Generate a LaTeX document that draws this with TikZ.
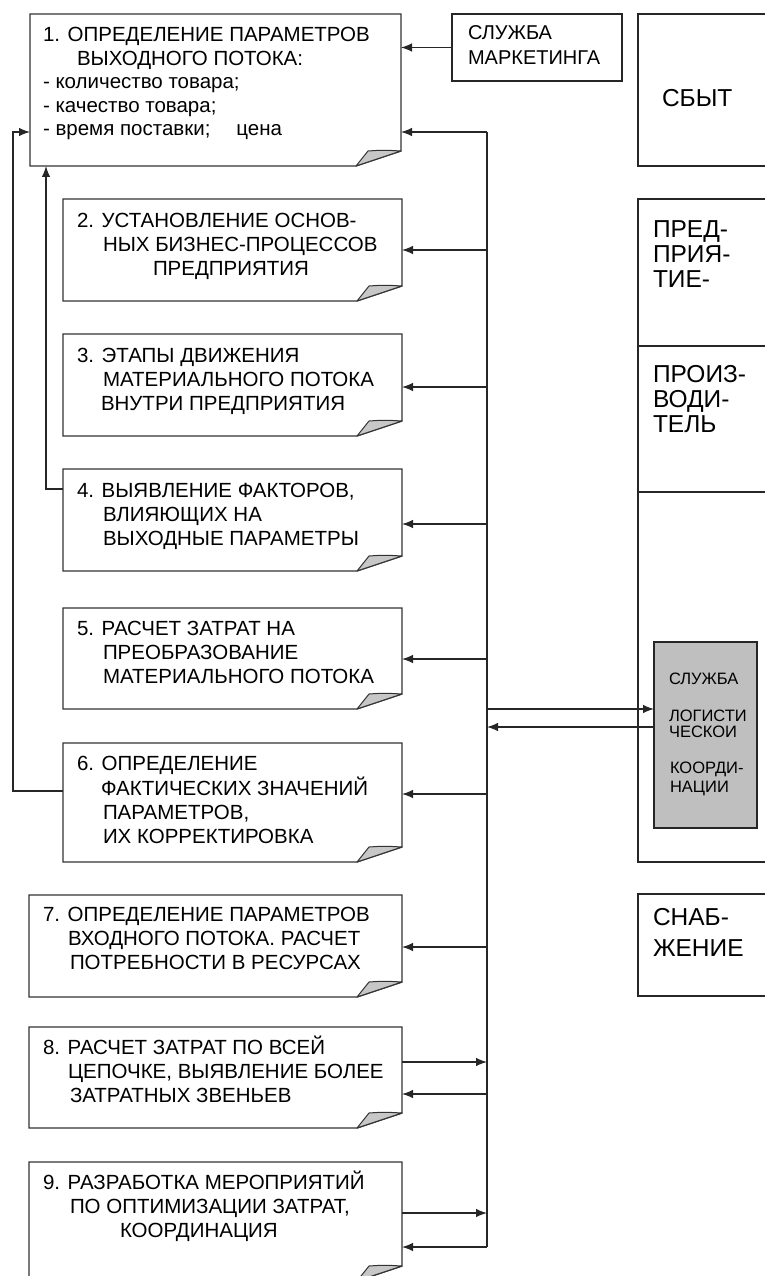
\documentclass[tikz,border=0pt]{standalone}
\usepackage{fontspec}
\setmainfont{Liberation Sans}
\usetikzlibrary{arrows.meta}

\tikzset{
  ink/.style={draw=black!85, line width=1.2pt},
  boxline/.style={draw=black!80, line width=1.4pt, line join=miter},
  flap/.style={fill=black!22, draw=black!80, line width=1pt, line join=round},
  arr/.style={ink, -{Latex[length=11pt,width=8.5pt]}},
  panel/.style={draw=black!85, line width=1.3pt, inner sep=0, outer sep=0, anchor=north west},
  holder/.style={inner sep=0, outer sep=0, anchor=north west},
  txt/.style={inner sep=0, outer sep=0, anchor=base west, font=\fontsize{20.5}{24.4}\selectfont},
  rtxt/.style={inner sep=0, outer sep=0, anchor=base west, font=\fontsize{24.5}{25}\selectfont},
}

% document-shaped box with a folded lower right corner: name, left, top, right, bottom
\newcommand\docnode[5]{%
  \node[holder, minimum width={#4pt-#2pt}, minimum height={#5pt-#3pt}] (#1) at (#2,#3) {};
  \draw[boxline] (#2,#3) -- (#4,#3) -- (#4,#5-15) -- (#4-45,#5) -- (#2,#5) -- cycle;
  \filldraw[flap] (#4-45,#5) -- (#4-33,#5-15) .. controls (#4-18,#5-16) .. (#4,#5-15) -- cycle;
}
\newcommand\txtlines[1]{\begin{tabular}[t]{@{}l@{}}#1\end{tabular}}

\begin{document}
\begin{tikzpicture}[x=1pt, y=-1pt]
\useasboundingbox (0,0) rectangle (765,1276);
\clip (0,0) rectangle (765,1276);

% step boxes
\docnode{b1}{30}{14}{401}{166}
\docnode{b2}{63}{199}{402}{301}
\docnode{b3}{63}{334}{402}{436}
\docnode{b4}{63}{469}{402}{571}
\docnode{b5}{63}{608}{402}{709}
\docnode{b6}{63}{743}{402}{862}
\docnode{b7}{29}{895}{402}{997}
\docnode{b8}{29}{1027}{402}{1128}
\docnode{b9}{29}{1162}{402}{1281}

\node[txt, font=\fontsize{20.5}{23.4}\selectfont] (t1) at (43,42) {\txtlines{%
  1. ОПРЕДЕЛЕНИЕ ПАРАМЕТРОВ\\
  \hspace*{34pt}ВЫХОДНОГО ПОТОКА:\\
  - количество товара;\\
  - качество товара;\\
  - время поставки;\hspace{26pt}цена}};
\node[txt] (t2) at (77,227) {\txtlines{%
  2. УСТАНОВЛЕНИЕ ОСНОВ-\\
  \hspace*{26pt}НЫХ БИЗНЕС-ПРОЦЕССОВ\\
  \hspace*{76pt}ПРЕДПРИЯТИЯ}};
\node[txt] (t3) at (77,362) {\txtlines{%
  3. ЭТАПЫ ДВИЖЕНИЯ\\
  \hspace*{26pt}МАТЕРИАЛЬНОГО ПОТОКА\\
  \hspace*{24pt}ВНУТРИ ПРЕДПРИЯТИЯ}};
\node[txt] (t4) at (77,497) {\txtlines{%
  4. ВЫЯВЛЕНИЕ ФАКТОРОВ,\\
  \hspace*{26pt}ВЛИЯЮЩИХ НА\\
  \hspace*{26pt}ВЫХОДНЫЕ ПАРАМЕТРЫ}};
\node[txt] (t5) at (77,635) {\txtlines{%
  5. РАСЧЕТ ЗАТРАТ НА\\
  \hspace*{26pt}ПРЕОБРАЗОВАНИЕ\\
  \hspace*{26pt}МАТЕРИАЛЬНОГО ПОТОКА}};
\node[txt, font=\fontsize{20.5}{23.7}\selectfont] (t6) at (77,770) {\txtlines{%
  6. ОПРЕДЕЛЕНИЕ\\
  \hspace*{24pt}ФАКТИЧЕСКИХ ЗНАЧЕНИЙ\\
  \hspace*{26pt}ПАРАМЕТРОВ,\\
  \hspace*{26pt}ИХ КОРРЕКТИРОВКА}};
\node[txt] (t7) at (43,921) {\txtlines{%
  7. ОПРЕДЕЛЕНИЕ ПАРАМЕТРОВ\\
  \hspace*{25pt}ВХОДНОГО ПОТОКА. РАСЧЕТ\\
  \hspace*{27pt}ПОТРЕБНОСТИ В РЕСУРСАХ}};
\node[txt] (t8) at (43,1054) {\txtlines{%
  8. РАСЧЕТ ЗАТРАТ ПО ВСЕЙ\\
  \hspace*{25pt}ЦЕПОЧКЕ, ВЫЯВЛЕНИЕ БОЛЕЕ\\
  \hspace*{27pt}ЗАТРАТНЫХ ЗВЕНЬЕВ}};
\node[txt] (t9) at (43,1189) {\txtlines{%
  9. РАЗРАБОТКА МЕРОПРИЯТИЙ\\
  \hspace*{27pt}ПО ОПТИМИЗАЦИИ ЗАТРАТ,\\
  \hspace*{77pt}КООРДИНАЦИЯ}};

% marketing service
\node[panel, minimum width=170, minimum height=67] (mk) at (452,14) {};
\node[txt, font=\fontsize{20}{25}\selectfont] (mkt) at (468,40) {\txtlines{СЛУЖБА\\МАРКЕТИНГА}};

% right column: sales, enterprise, supply
\node[panel, minimum width=160, minimum height=152] (sb) at (638,14) {};
\node[rtxt] (sbt) at (662,107) {СБЫТ};
\node[panel, minimum width=160, minimum height=663] (ent) at (638,199) {};
\coordinate (d1) at (638,346);
\coordinate (d2) at (638,492);
\draw[ink, line width=1.3pt] (d1) -- ++(160,0);
\draw[ink, line width=1.3pt] (d2) -- ++(160,0);
\node[rtxt] (pr1) at (653,237) {\txtlines{ПРЕД-\\ПРИЯ-\\ТИЕ-}};
\node[rtxt] (pr2) at (653,382) {\txtlines{ПРОИЗ-\\ВОДИ-\\ТЕЛЬ}};
\node[panel, minimum width=160, minimum height=102] (sn) at (638,894) {};
\node[rtxt, font=\fontsize{24.5}{31}\selectfont] (snt) at (653,925) {\txtlines{СНАБ-\\ЖЕНИЕ}};

% logistics coordination service
\node[panel, fill=black!25, minimum width=103, minimum height=186] (lg) at (654,642) {};
\node[txt, font=\fontsize{16.5}{17}\selectfont] (lg1) at (669,684) {СЛУЖБА};
\node[txt, font=\fontsize{16.5}{16.5}\selectfont] (lg2) at (669,721) {\txtlines{ЛОГИСТИ\\ЧЕСКОИ}};
\node[txt, font=\fontsize{16.5}{19.5}\selectfont] (lg3) at (670,773) {\txtlines{КООРДИ-\\НАЦИИ}};

% main vertical trunk and its branches
\coordinate (j1) at (487,132);
\coordinate (j2) at (487,250);
\coordinate (j3) at (487,387);
\coordinate (j4) at (487,524);
\coordinate (j5) at (487,659);
\coordinate (j6) at (487,794);
\coordinate (j7) at (487,947);
\coordinate (j8) at (487,1094);
\coordinate (j9) at (487,1247);
\coordinate (o8) at (402,1062);
\coordinate (o9) at (402,1213);
\draw[ink] (j1) -- (j9);
\draw[arr] (j1) -- (j1 -| b1.east);
\draw[arr] (j2) -- (j2 -| b2.east);
\draw[arr] (j3) -- (j3 -| b3.east);
\draw[arr] (j4) -- (j4 -| b4.east);
\draw[arr] (j5) -- (j5 -| b5.east);
\draw[arr] (j6) -- (j6 -| b6.east);
\draw[arr] (j7) -- (j7 -| b7.east);
\draw[arr] (j8) -- (j8 -| b8.east);
\draw[arr] (j9) -- (j9 -| b9.east);
\draw[arr] (o8) -- (o8 -| j1);
\draw[arr] (o9) -- (o9 -| j1);

% exchange with the logistics service
\coordinate (x1) at (487,709);
\coordinate (x2) at (487,727);
\draw[arr] (x1) -- (x1 -| lg.west);
\draw[arr] (x2 -| lg.west) -- (x2);

% marketing feeds step 1
\draw[arr] (mk.west) -- (mk.west -| b1.east);

% feedback loops to step 1
\coordinate (k4) at (63,489);
\coordinate (u1) at (46,166);
\draw[arr] (k4) -| (u1);
\coordinate (k6) at (63,791);
\coordinate (u2) at (30,132);
\draw[arr] (k6) -- (13,791) |- (u2);
\end{tikzpicture}
\end{document}
